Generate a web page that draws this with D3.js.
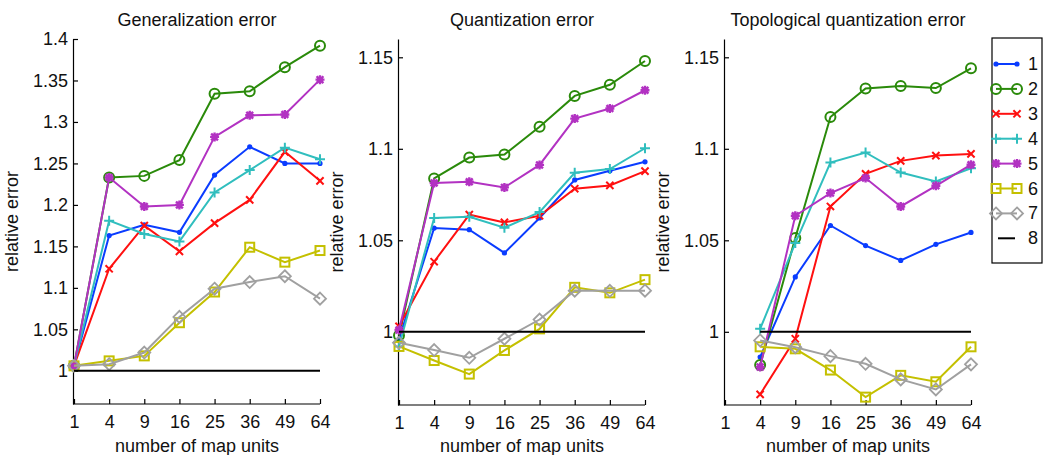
<!DOCTYPE html>
<html><head><meta charset="utf-8">
<script src="https://cdn.jsdelivr.net/npm/d3@7"></script>
<style>
body{margin:0;background:#fff;}
svg{display:block;font-family:"Liberation Sans",Arial,sans-serif;}
</style></head><body>
<svg id="c" width="1044" height="455"></svg>
<script>
const mapUnits = ["1","4","9","16","25","36","49","64"];
const seriesNames = ["1","2","3","4","5","6","7","8"];
const seriesColors = ["#0a3cff","#2a8a0a","#ff1010","#30bebe","#b232c2","#c4c000","#a0a0a0","#000000"];
const seriesMarkers = ["dot","circle","x","plus","star","square","diamond","none"];
const titles = ["Generalization error","Quantization error","Topological quantization error"];
const yTicksGen = [1,1.05,1.1,1.15,1.2,1.25,1.3,1.35,1.4];
const yTicksQ = [1,1.05,1.1,1.15];

// Generalization error, series 1..8
const generalization = [
  [1.006,1.163,1.176,1.167,1.236,1.270,1.250,1.250],
  [1.006,1.233,1.235,1.254,1.334,1.337,1.366,1.392],
  [1.006,1.123,1.175,1.144,1.178,1.206,1.264,1.229],
  [1.006,1.181,1.165,1.156,1.215,1.242,1.269,1.255],
  [1.006,1.233,1.198,1.200,1.282,1.308,1.309,1.351],
  [1.006,1.012,1.018,1.058,1.095,1.149,1.131,1.145],
  [1.006,1.008,1.022,1.065,1.099,1.107,1.114,1.087],
  [1,1,1,1,1,1,1,1]
];
// Quantization error
const quantization = [
  [0.996,1.0567,1.0558,1.0431,1.0622,1.0830,1.0880,1.0929],
  [0.998,1.0838,1.0952,1.0969,1.1120,1.1289,1.1350,1.1480],
  [1.003,1.0383,1.0640,1.0598,1.0634,1.0782,1.0800,1.0878],
  [0.992,1.0622,1.0629,1.0569,1.0654,1.0869,1.0889,1.1003],
  [1.001,1.0813,1.0820,1.0789,1.0912,1.1165,1.1220,1.1320],
  [0.992,0.9843,0.9769,0.9898,1.0016,1.0243,1.0213,1.0285],
  [0.994,0.9900,0.9858,0.9962,1.0067,1.0225,1.0224,1.0225],
  [1,1,1,1,1,1,1,1]
];
// Topological quantization error
const topological = [
  [null,0.9862,1.0300,1.0581,1.0471,1.0390,1.0478,1.0543],
  [null,0.9818,1.0513,1.1174,1.1329,1.1343,1.1332,1.1440],
  [null,0.9658,0.9962,1.0685,1.0863,1.0934,1.0963,1.0972],
  [null,1.0016,1.0485,1.0925,1.0980,1.0870,1.0821,1.0894],
  [null,0.9807,1.0634,1.0758,1.0840,1.0685,1.0798,1.0913],
  [null,0.9918,0.9907,0.9791,0.9643,0.9762,0.9727,0.9918],
  [null,0.9953,0.9916,0.9867,0.9825,0.9740,0.9685,0.9822],
  [null,1,1,1,1,1,1,1]
];

const svg = d3.select("#c");
const FS = "18px";
const panels = [
  {data: generalization, xr:[74,320], ydom:[0.96,1.4], yr:[404,39], ticks:yTicksGen, title:titles[0]},
  {data: quantization, xr:[399,645], ydom:[0.96,1.16], yr:[405,39], ticks:yTicksQ, title:titles[1]},
  {data: topological, xr:[725,971], ydom:[0.96,1.16], yr:[405,39], ticks:yTicksQ, title:titles[2]}
];

function drawMarker(g, type, cx, cy, color){
  if(type==="dot"){
    g.append("circle").attr("cx",cx).attr("cy",cy).attr("r",2.6).attr("fill",color);
  } else if(type==="circle"){
    g.append("circle").attr("cx",cx).attr("cy",cy).attr("r",5).attr("fill","none").attr("stroke",color).attr("stroke-width",2);
  } else if(type==="x"){
    const s=3.6;
    g.append("path").attr("d",`M${cx-s},${cy-s}L${cx+s},${cy+s}M${cx-s},${cy+s}L${cx+s},${cy-s}`).attr("stroke",color).attr("stroke-width",2).attr("fill","none");
  } else if(type==="plus"){
    const s=5;
    g.append("path").attr("d",`M${cx-s},${cy}L${cx+s},${cy}M${cx},${cy-s}L${cx},${cy+s}`).attr("stroke",color).attr("stroke-width",2).attr("fill","none");
  } else if(type==="star"){
    const s=4.5, d=3.4;
    g.append("path").attr("d",`M${cx-s},${cy}L${cx+s},${cy}M${cx},${cy-s}L${cx},${cy+s}M${cx-d},${cy-d}L${cx+d},${cy+d}M${cx-d},${cy+d}L${cx+d},${cy-d}`).attr("stroke",color).attr("stroke-width",2.4).attr("fill","none");
    g.append("circle").attr("cx",cx).attr("cy",cy).attr("r",2.8).attr("fill",color);
  } else if(type==="square"){
    const s=4.5;
    g.append("rect").attr("x",cx-s).attr("y",cy-s).attr("width",2*s).attr("height",2*s).attr("fill","none").attr("stroke",color).attr("stroke-width",2);
  } else if(type==="diamond"){
    const s=6;
    g.append("path").attr("d",`M${cx},${cy-s}L${cx+s},${cy}L${cx},${cy+s}L${cx-s},${cy}Z`).attr("fill","none").attr("stroke",color).attr("stroke-width",1.8);
  }
}

panels.forEach(p=>{
  const x = d3.scalePoint().domain(mapUnits).range(p.xr);
  const y = d3.scaleLinear().domain(p.ydom).range(p.yr);
  const g = svg.append("g");

  const xAxis = g.append("g").attr("transform",`translate(0,${p.yr[0]})`)
    .call(d3.axisBottom(x).tickSize(-5).tickSizeOuter(0).tickPadding(11));
  const yAxis = g.append("g").attr("transform",`translate(${p.xr[0]-1},0)`)
    .call(d3.axisLeft(y).tickValues(p.ticks).tickFormat(d=>d3.format("")(+d.toFixed(2))).tickSize(-5).tickSizeOuter(0).tickPadding(5));
  [xAxis,yAxis].forEach(a=>{
    a.selectAll("path,line").attr("stroke","#000").attr("stroke-width",1.2);
    a.selectAll("text").attr("fill","#111").style("font-size",FS).style("font-family","'Liberation Sans',Arial,sans-serif");
  });
  xAxis.select(".domain").attr("d",`M${p.xr[0]-1},0H${p.xr[1]}`);

  const cxm = (p.xr[0]+p.xr[1])/2;
  g.append("text").attr("x",cxm).attr("y",26).attr("text-anchor","middle").style("font-size",FS).attr("fill","#111").text(p.title);
  g.append("text").attr("x",cxm).attr("y",452).attr("text-anchor","middle").style("font-size",FS).attr("fill","#111").text("number of map units");
  const ly = (p.yr[0]+p.yr[1])/2;
  const lx = p.xr[0]-56;
  g.append("text").attr("transform",`translate(${lx},${ly}) rotate(-90)`).attr("text-anchor","middle").style("font-size",FS).attr("fill","#111").text("relative error");

  const line = d3.line().defined(d=>d.v!==null).x(d=>x(d.k)).y(d=>y(d.v));
  p.data.forEach((vals,i)=>{
    const pts = vals.map((v,j)=>({k:mapUnits[j],v:v}));
    const sg = g.append("g");
    sg.append("path").attr("d",line(pts)).attr("fill","none").attr("stroke",seriesColors[i]).attr("stroke-width",2);
    pts.filter(d=>d.v!==null).forEach(d=>drawMarker(sg,seriesMarkers[i],x(d.k),y(d.v),seriesColors[i]));
  });
});

// legend
const lg = svg.append("g");
lg.append("rect").attr("x",992).attr("y",38).attr("width",50).attr("height",225).attr("fill","#fff").attr("stroke","#000").attr("stroke-width",1.2);
seriesNames.forEach((n,i)=>{
  const yy = 64 + i*24.9;
  const c = seriesColors[i];
  if(i===7){
    lg.append("line").attr("x1",998).attr("x2",1015).attr("y1",yy).attr("y2",yy).attr("stroke",c).attr("stroke-width",2);
  } else {
    lg.append("line").attr("x1",996).attr("x2",1017).attr("y1",yy).attr("y2",yy).attr("stroke",c).attr("stroke-width",2);
    drawMarker(lg,seriesMarkers[i],996,yy,c);
    drawMarker(lg,seriesMarkers[i],1017,yy,c);
  }
  lg.append("text").attr("x",1028).attr("y",yy+6).style("font-size",FS).attr("fill","#111").text(n);
});
</script>
</body></html>
